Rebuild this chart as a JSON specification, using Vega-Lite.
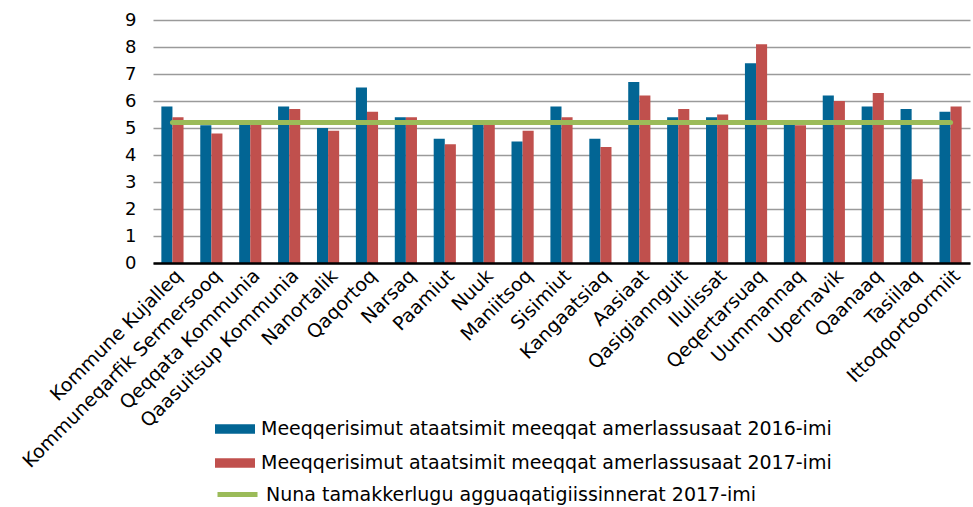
{
  "$schema": "https://vega.github.io/schema/vega-lite/v6.json",
  "autosize": "none",
  "padding": {"left": 153, "top": 20, "right": 3, "bottom": 244},
  "width": 817,
  "height": 243,
  "background": "white",
  "config": {
    "font": "DejaVu Sans",
    "view": {"stroke": null}
  },
  "datasets": {
    "bars": [
      {"kommune": "Kommune Kujalleq", "serie": "Meeqqerisimut ataatsimit meeqqat amerlassusaat 2016-imi", "value": 5.8},
      {"kommune": "Kommune Kujalleq", "serie": "Meeqqerisimut ataatsimit meeqqat amerlassusaat 2017-imi", "value": 5.4},
      {"kommune": "Kommuneqarfik Sermersooq", "serie": "Meeqqerisimut ataatsimit meeqqat amerlassusaat 2016-imi", "value": 5.1},
      {"kommune": "Kommuneqarfik Sermersooq", "serie": "Meeqqerisimut ataatsimit meeqqat amerlassusaat 2017-imi", "value": 4.8},
      {"kommune": "Qeqqata Kommunia", "serie": "Meeqqerisimut ataatsimit meeqqat amerlassusaat 2016-imi", "value": 5.2},
      {"kommune": "Qeqqata Kommunia", "serie": "Meeqqerisimut ataatsimit meeqqat amerlassusaat 2017-imi", "value": 5.2},
      {"kommune": "Qaasuitsup Kommunia", "serie": "Meeqqerisimut ataatsimit meeqqat amerlassusaat 2016-imi", "value": 5.8},
      {"kommune": "Qaasuitsup Kommunia", "serie": "Meeqqerisimut ataatsimit meeqqat amerlassusaat 2017-imi", "value": 5.7},
      {"kommune": "Nanortalik", "serie": "Meeqqerisimut ataatsimit meeqqat amerlassusaat 2016-imi", "value": 5.0},
      {"kommune": "Nanortalik", "serie": "Meeqqerisimut ataatsimit meeqqat amerlassusaat 2017-imi", "value": 4.9},
      {"kommune": "Qaqortoq", "serie": "Meeqqerisimut ataatsimit meeqqat amerlassusaat 2016-imi", "value": 6.5},
      {"kommune": "Qaqortoq", "serie": "Meeqqerisimut ataatsimit meeqqat amerlassusaat 2017-imi", "value": 5.6},
      {"kommune": "Narsaq", "serie": "Meeqqerisimut ataatsimit meeqqat amerlassusaat 2016-imi", "value": 5.4},
      {"kommune": "Narsaq", "serie": "Meeqqerisimut ataatsimit meeqqat amerlassusaat 2017-imi", "value": 5.4},
      {"kommune": "Paamiut", "serie": "Meeqqerisimut ataatsimit meeqqat amerlassusaat 2016-imi", "value": 4.6},
      {"kommune": "Paamiut", "serie": "Meeqqerisimut ataatsimit meeqqat amerlassusaat 2017-imi", "value": 4.4},
      {"kommune": "Nuuk", "serie": "Meeqqerisimut ataatsimit meeqqat amerlassusaat 2016-imi", "value": 5.2},
      {"kommune": "Nuuk", "serie": "Meeqqerisimut ataatsimit meeqqat amerlassusaat 2017-imi", "value": 5.2},
      {"kommune": "Maniitsoq", "serie": "Meeqqerisimut ataatsimit meeqqat amerlassusaat 2016-imi", "value": 4.5},
      {"kommune": "Maniitsoq", "serie": "Meeqqerisimut ataatsimit meeqqat amerlassusaat 2017-imi", "value": 4.9},
      {"kommune": "Sisimiut", "serie": "Meeqqerisimut ataatsimit meeqqat amerlassusaat 2016-imi", "value": 5.8},
      {"kommune": "Sisimiut", "serie": "Meeqqerisimut ataatsimit meeqqat amerlassusaat 2017-imi", "value": 5.4},
      {"kommune": "Kangaatsiaq", "serie": "Meeqqerisimut ataatsimit meeqqat amerlassusaat 2016-imi", "value": 4.6},
      {"kommune": "Kangaatsiaq", "serie": "Meeqqerisimut ataatsimit meeqqat amerlassusaat 2017-imi", "value": 4.3},
      {"kommune": "Aasiaat", "serie": "Meeqqerisimut ataatsimit meeqqat amerlassusaat 2016-imi", "value": 6.7},
      {"kommune": "Aasiaat", "serie": "Meeqqerisimut ataatsimit meeqqat amerlassusaat 2017-imi", "value": 6.2},
      {"kommune": "Qasigiannguit", "serie": "Meeqqerisimut ataatsimit meeqqat amerlassusaat 2016-imi", "value": 5.4},
      {"kommune": "Qasigiannguit", "serie": "Meeqqerisimut ataatsimit meeqqat amerlassusaat 2017-imi", "value": 5.7},
      {"kommune": "Ilulissat", "serie": "Meeqqerisimut ataatsimit meeqqat amerlassusaat 2016-imi", "value": 5.4},
      {"kommune": "Ilulissat", "serie": "Meeqqerisimut ataatsimit meeqqat amerlassusaat 2017-imi", "value": 5.5},
      {"kommune": "Qeqertarsuaq", "serie": "Meeqqerisimut ataatsimit meeqqat amerlassusaat 2016-imi", "value": 7.4},
      {"kommune": "Qeqertarsuaq", "serie": "Meeqqerisimut ataatsimit meeqqat amerlassusaat 2017-imi", "value": 8.1},
      {"kommune": "Uummannaq", "serie": "Meeqqerisimut ataatsimit meeqqat amerlassusaat 2016-imi", "value": 5.2},
      {"kommune": "Uummannaq", "serie": "Meeqqerisimut ataatsimit meeqqat amerlassusaat 2017-imi", "value": 5.1},
      {"kommune": "Upernavik", "serie": "Meeqqerisimut ataatsimit meeqqat amerlassusaat 2016-imi", "value": 6.2},
      {"kommune": "Upernavik", "serie": "Meeqqerisimut ataatsimit meeqqat amerlassusaat 2017-imi", "value": 6.0},
      {"kommune": "Qaanaaq", "serie": "Meeqqerisimut ataatsimit meeqqat amerlassusaat 2016-imi", "value": 5.8},
      {"kommune": "Qaanaaq", "serie": "Meeqqerisimut ataatsimit meeqqat amerlassusaat 2017-imi", "value": 6.3},
      {"kommune": "Tasiilaq", "serie": "Meeqqerisimut ataatsimit meeqqat amerlassusaat 2016-imi", "value": 5.7},
      {"kommune": "Tasiilaq", "serie": "Meeqqerisimut ataatsimit meeqqat amerlassusaat 2017-imi", "value": 3.1},
      {"kommune": "Ittoqqortoormiit", "serie": "Meeqqerisimut ataatsimit meeqqat amerlassusaat 2016-imi", "value": 5.6},
      {"kommune": "Ittoqqortoormiit", "serie": "Meeqqerisimut ataatsimit meeqqat amerlassusaat 2017-imi", "value": 5.8}
    ],
    "line": [
      {"kommune": "Kommune Kujalleq", "value": 5.2},
      {"kommune": "Kommuneqarfik Sermersooq", "value": 5.2},
      {"kommune": "Qeqqata Kommunia", "value": 5.2},
      {"kommune": "Qaasuitsup Kommunia", "value": 5.2},
      {"kommune": "Nanortalik", "value": 5.2},
      {"kommune": "Qaqortoq", "value": 5.2},
      {"kommune": "Narsaq", "value": 5.2},
      {"kommune": "Paamiut", "value": 5.2},
      {"kommune": "Nuuk", "value": 5.2},
      {"kommune": "Maniitsoq", "value": 5.2},
      {"kommune": "Sisimiut", "value": 5.2},
      {"kommune": "Kangaatsiaq", "value": 5.2},
      {"kommune": "Aasiaat", "value": 5.2},
      {"kommune": "Qasigiannguit", "value": 5.2},
      {"kommune": "Ilulissat", "value": 5.2},
      {"kommune": "Qeqertarsuaq", "value": 5.2},
      {"kommune": "Uummannaq", "value": 5.2},
      {"kommune": "Upernavik", "value": 5.2},
      {"kommune": "Qaanaaq", "value": 5.2},
      {"kommune": "Tasiilaq", "value": 5.2},
      {"kommune": "Ittoqqortoormiit", "value": 5.2}
    ]
  },
  "encoding": {
    "x": {
      "field": "kommune",
      "type": "nominal",
      "sort": null,
      "scale": {"paddingInner": 0.43, "paddingOuter": 0.215},
      "axis": {
        "title": null,
        "labelAngle": -45,
        "labelFontSize": 19,
        "labelColor": "#000000",
        "labelPadding": 3,
        "labelLimit": 400,
        "labelOverlap": false,
        "ticks": false,
        "domainColor": "#000000",
        "domainWidth": 2.5,
        "grid": false,
        "zindex": 2
      }
    },
    "y": {
      "field": "value",
      "type": "quantitative",
      "scale": {"domain": [0, 9]},
      "axis": {
        "title": null,
        "values": [0, 1, 2, 3, 4, 5, 6, 7, 8, 9],
        "labelFontSize": 18,
        "labelColor": "#000000",
        "labelPadding": 17,
        "ticks": false,
        "domain": false,
        "gridColor": "#9a9a9a",
        "gridWidth": 1.5
      }
    }
  },
  "layer": [
    {
      "data": {"name": "bars"},
      "mark": {"type": "bar"},
      "encoding": {
        "xOffset": {"field": "serie", "type": "nominal"},
        "color": {
          "field": "serie",
          "type": "nominal",
          "scale": {"range": ["#026594", "#C0504D"]},
          "legend": {
            "orient": "none",
            "legendX": 62,
            "legendY": 389,
            "title": null,
            "padding": 0,
            "symbolType": "M-1,-0.24H1V0.24H-1Z",
            "symbolSize": 1600,
            "symbolStrokeWidth": 0,
            "symbolOpacity": 1,
            "labelFontSize": 19,
            "labelColor": "#000000",
            "labelOffset": 6,
            "rowPadding": 4,
            "labelLimit": 700
          }
        }
      }
    },
    {
      "data": {"name": "line"},
      "mark": {"type": "line", "strokeWidth": 5, "strokeCap": "round"},
      "encoding": {
        "stroke": {
          "datum": "Nuna tamakkerlugu agguaqatigiissinnerat 2017-imi",
          "type": "nominal",
          "scale": {"range": ["#9BBB59"]},
          "legend": {
            "orient": "none",
            "legendX": 62,
            "legendY": 452,
            "title": null,
            "padding": 0,
            "symbolType": "stroke",
            "symbolSize": 1600,
            "symbolStrokeWidth": 5,
            "labelFontSize": 19,
            "labelColor": "#000000",
            "labelOffset": 6,
            "labelLimit": 700
          }
        }
      }
    }
  ]
}
